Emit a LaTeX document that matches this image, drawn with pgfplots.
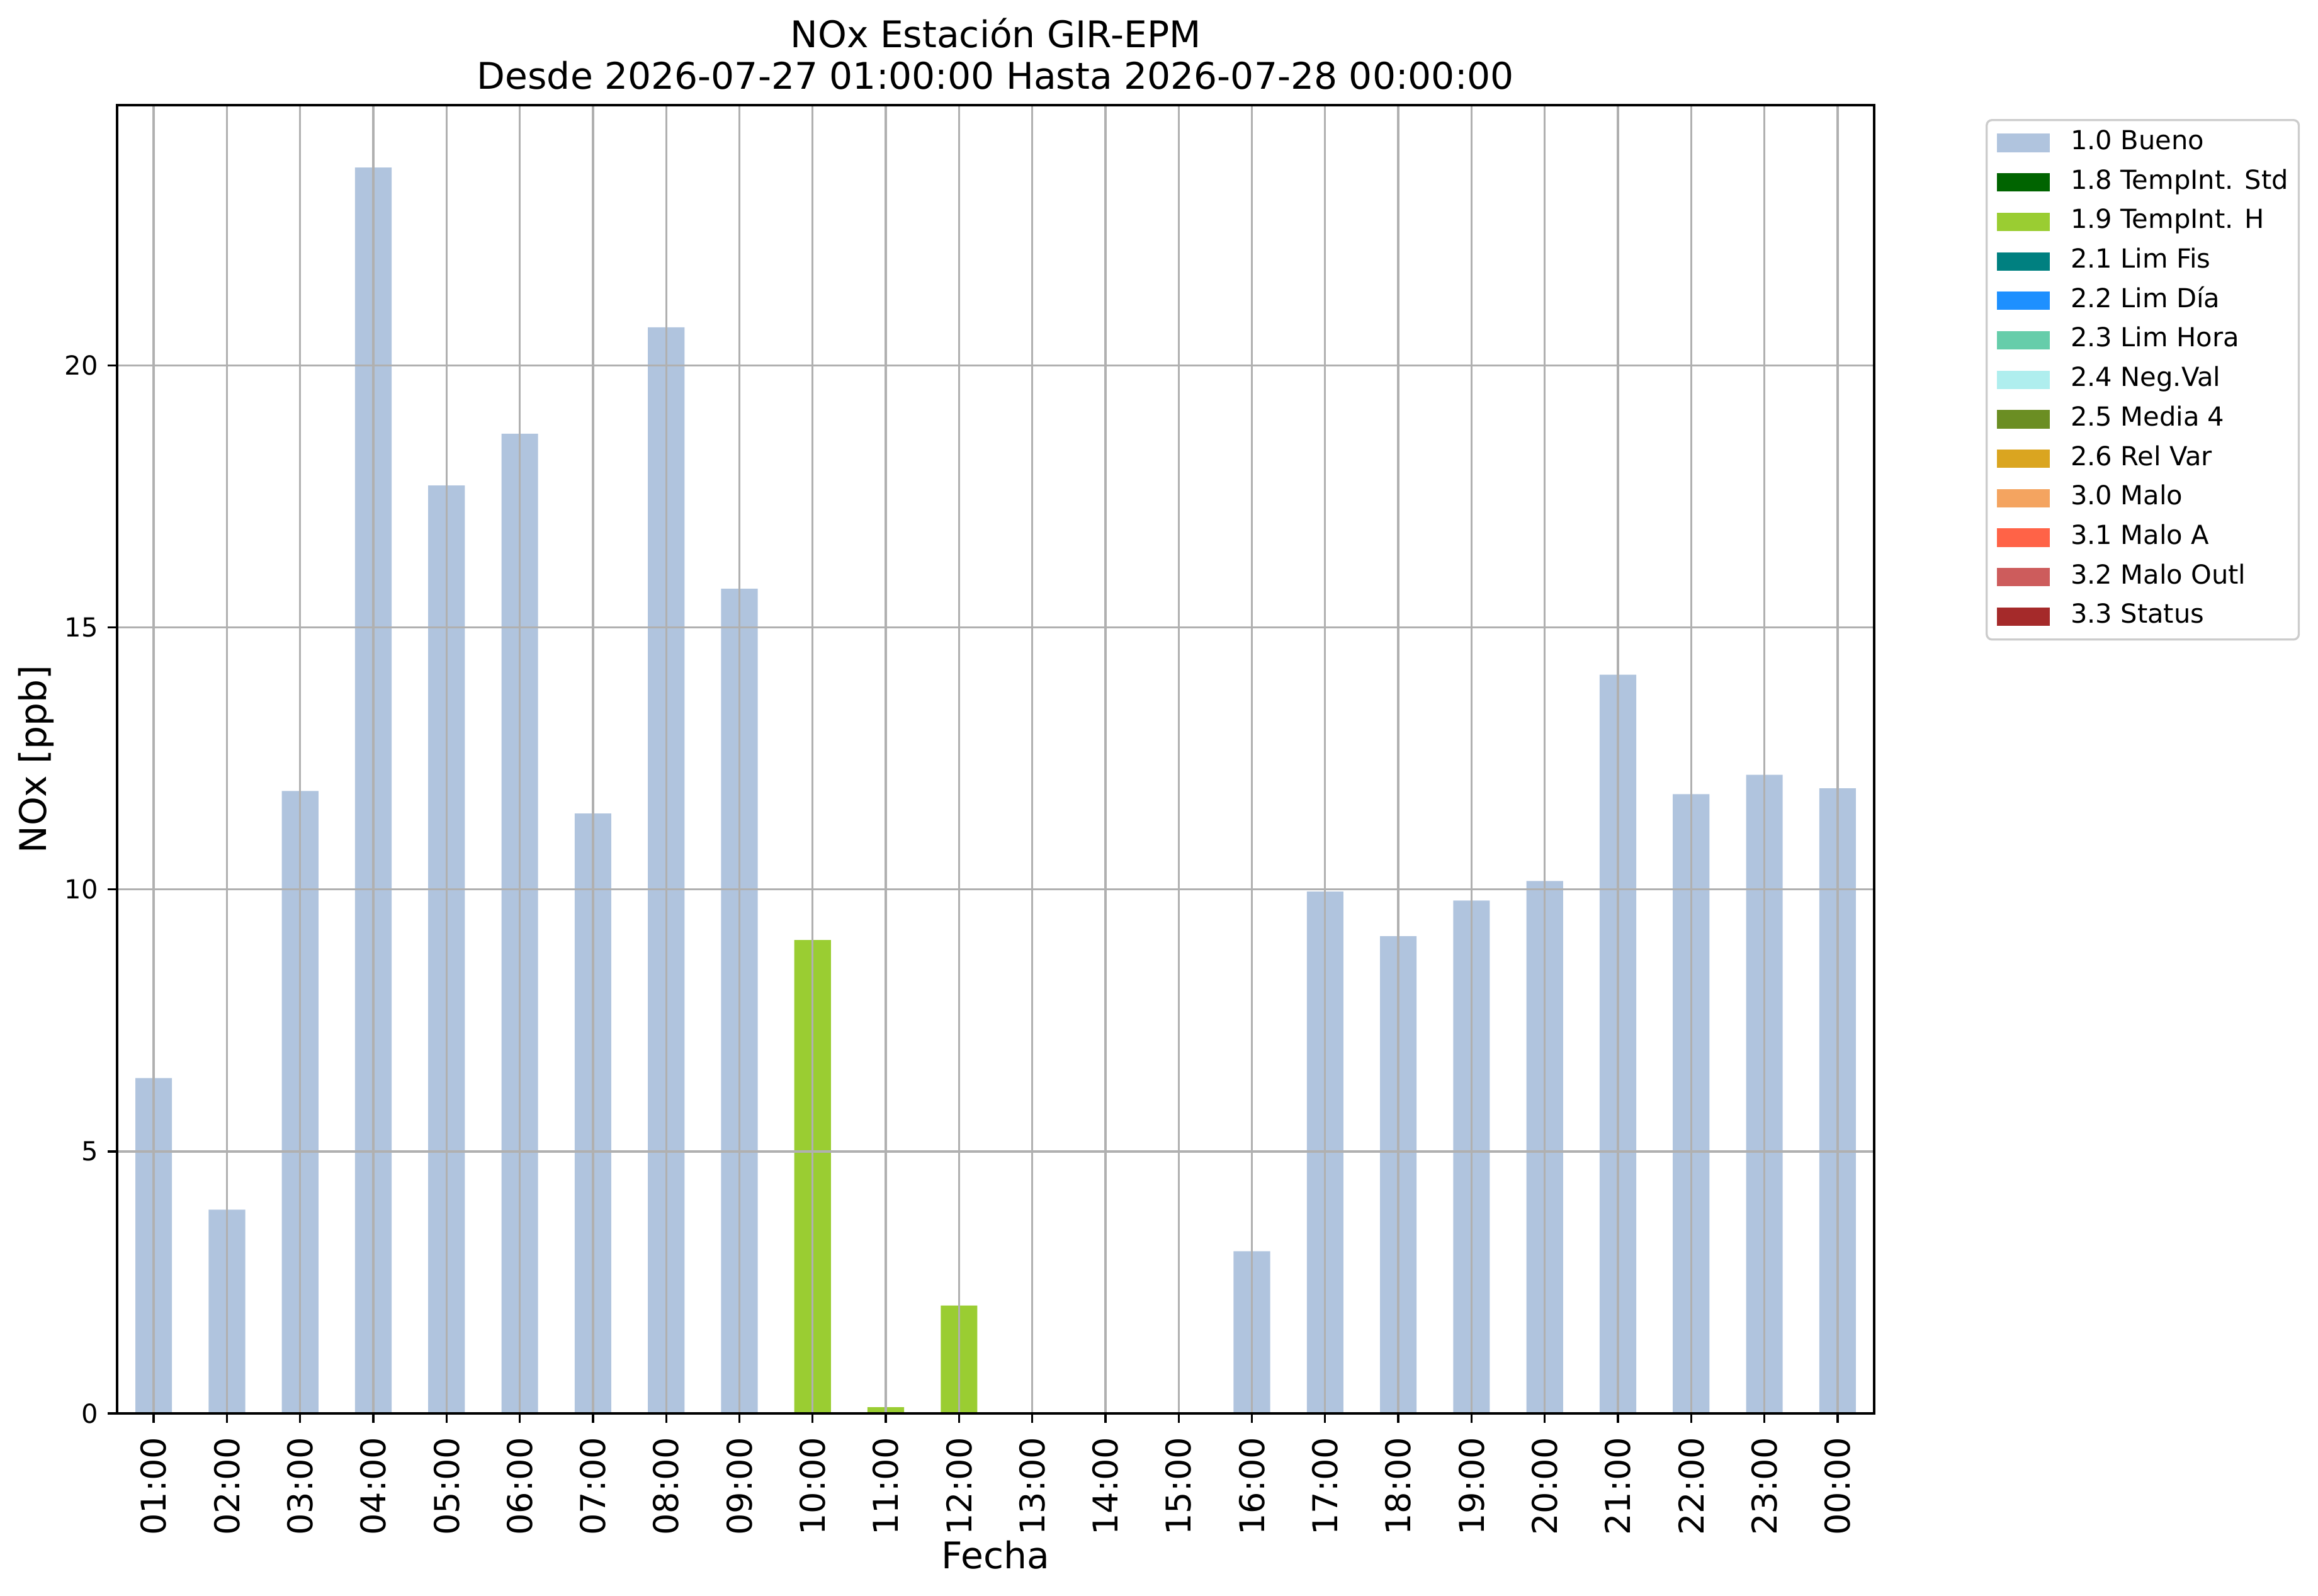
\documentclass[border=0pt]{standalone}
\usepackage{pgfplots}
\pgfplotsset{compat=1.18}
\usepackage{fontspec}
\setmainfont{DejaVu Sans}
\definecolor{bueno}{HTML}{B0C4DE}
\definecolor{c18}{HTML}{006400}
\definecolor{c19}{HTML}{9ACD32}
\definecolor{c21}{HTML}{008080}
\definecolor{c22}{HTML}{1E90FF}
\definecolor{c23}{HTML}{66CDAA}
\definecolor{c24}{HTML}{AFEEEE}
\definecolor{c25}{HTML}{6B8E23}
\definecolor{c26}{HTML}{DAA520}
\definecolor{c30}{HTML}{F4A460}
\definecolor{c31}{HTML}{FF6347}
\definecolor{c32}{HTML}{CD5C5C}
\definecolor{c33}{HTML}{A52A2A}
\definecolor{gridgray}{HTML}{B0B0B0}
\definecolor{legendgray}{HTML}{CCCCCC}
\begin{document}
\begin{tikzpicture}
\useasboundingbox (0,0) rectangle (883.68pt,608.16pt);
\begin{axis}[
  at={(44.64pt,69.36pt)}, anchor=south west,
  scale only axis, width=669.84pt, height=498.72pt,
  xmin=-0.5, xmax=23.5, ymin=0, ymax=24.97,
  xtick={0,1,...,23},
  xticklabels={01:00,02:00,03:00,04:00,05:00,06:00,07:00,08:00,09:00,10:00,11:00,12:00,13:00,14:00,15:00,16:00,17:00,18:00,19:00,20:00,21:00,22:00,23:00,00:00},
  ytick={0,5,10,15,20},
  grid=major,
  grid style={color=gridgray, line width=0.8pt},
  axis on top,
  axis line style={line width=0.8pt, black},
  tick align=outside, tick pos=left,
  major tick length=3.5pt,
  every tick/.style={black, line width=0.8pt},
  /pgf/number format/assume math mode=true,
  yticklabel style={font=\fontsize{10}{12}\selectfont, inner sep=0pt, xshift=-3.5pt},
  xticklabel style={font=\fontsize{13}{15}\selectfont, yshift=-5.3pt, rotate=90, anchor=east, inner sep=0pt},
  xlabel={Fecha}, ylabel={NOx [ppb]},
  xlabel style={font=\fontsize{14}{16}\selectfont, inner sep=0pt, yshift=-1.9pt},
  ylabel style={font=\fontsize{14}{16}\selectfont, inner sep=0pt, yshift=4pt},
  title={NOx Estación GIR-EPM\\Desde 2026-07-27 01:00:00 Hasta 2026-07-28 00:00:00},
  title style={at={(0.5,1)}, anchor=south, yshift=-0.2pt, inner sep=0pt, align=center, font=\fontsize{14}{15.8}\selectfont},
  legend image code/.code={\fill[#1, draw=none, sharp corners] (0pt,-3.5pt) rectangle (20pt,3.5pt);},
  legend cell align=left,
  legend style={at={(1,1)}, anchor=north west, xshift=42.5pt, yshift=-5.3pt,
    draw=legendgray, line width=0.8pt, rounded corners=2pt, fill=white,
    font=\fontsize{10}{12}\selectfont, inner xsep=4pt, inner ysep=3.7pt,
    row sep=5.05pt, column sep=8pt,
    nodes={inner sep=0pt, text height=7.5pt, text depth=2.5pt}},
]
\addplot[ybar, bar width=0.5, bar shift=0pt, fill=bueno, draw=none] coordinates {
 (0,6.40) (1,3.89) (2,11.88) (3,23.78) (4,17.71) (5,18.70) (6,11.45) (7,20.73) (8,15.74)
 (15,3.095) (16,9.96) (17,9.11) (18,9.79) (19,10.16) (20,14.10) (21,11.82) (22,12.19) (23,11.93)
};
\addlegendentry{1.0 Bueno}
\addlegendimage{fill=c18}
\addlegendentry{1.8 TempInt. Std}
\addplot[ybar, bar width=0.5, bar shift=0pt, fill=c19, draw=none] coordinates {
 (9,9.035) (10,0.118) (11,2.06)
};
\addlegendentry{1.9 TempInt. H}
\addlegendimage{fill=c21}
\addlegendentry{2.1 Lim Fis}
\addlegendimage{fill=c22}
\addlegendentry{2.2 Lim Día}
\addlegendimage{fill=c23}
\addlegendentry{2.3 Lim Hora}
\addlegendimage{fill=c24}
\addlegendentry{2.4 Neg.Val}
\addlegendimage{fill=c25}
\addlegendentry{2.5 Media 4}
\addlegendimage{fill=c26}
\addlegendentry{2.6 Rel Var}
\addlegendimage{fill=c30}
\addlegendentry{3.0 Malo}
\addlegendimage{fill=c31}
\addlegendentry{3.1 Malo A}
\addlegendimage{fill=c32}
\addlegendentry{3.2 Malo Outl}
\addlegendimage{fill=c33}
\addlegendentry{3.3 Status}
\end{axis}
\end{tikzpicture}
\end{document}
